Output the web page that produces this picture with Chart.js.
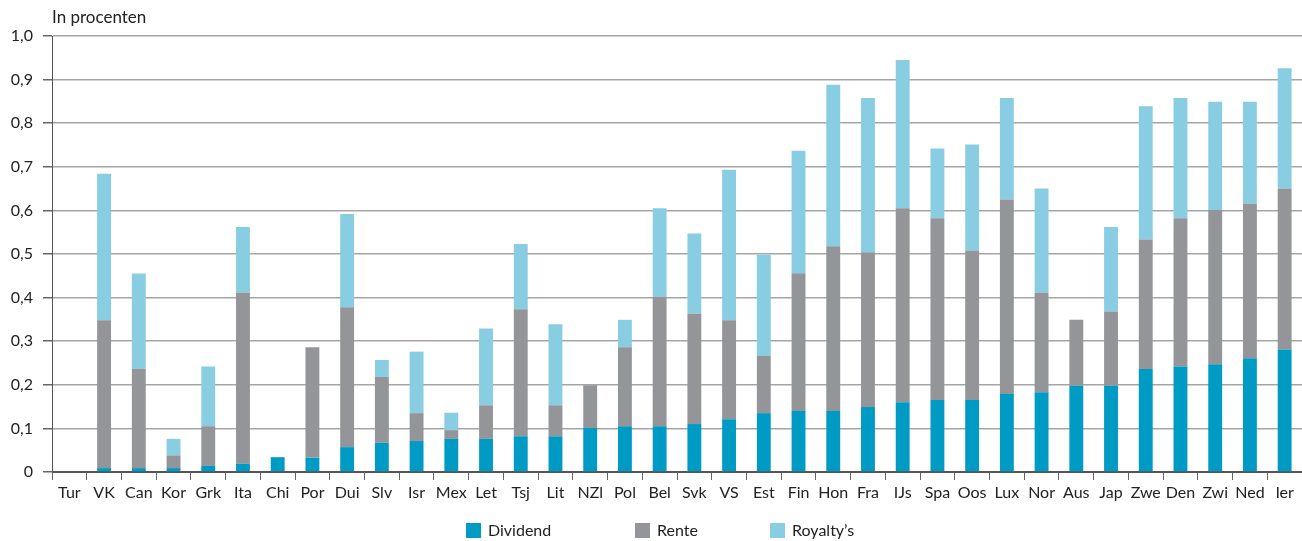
<!DOCTYPE html>
<html>
<head>
<meta charset="utf-8">
<script src="https://cdn.jsdelivr.net/npm/chart.js@4"></script>
<style>
  html, body { margin: 0; padding: 0; background: #fff; }
  #wrap { width: 1302px; height: 541px; }
</style>
</head>
<body>
<div id="wrap"><canvas id="chart" width="1302" height="541"></canvas></div>
<script>
// Data (in procenten)
const countries = ['Tur', 'VK', 'Can', 'Kor', 'Grk', 'Ita', 'Chi', 'Por', 'Dui', 'Slv', 'Isr', 'Mex',
  'Let', 'Tsj', 'Lit', 'NZl', 'Pol', 'Bel', 'Svk', 'VS', 'Est', 'Fin', 'Hon', 'Fra', 'IJs', 'Spa',
  'Oos', 'Lux', 'Nor', 'Aus', 'Jap', 'Zwe', 'Den', 'Zwi', 'Ned', 'Ier'];

const dividend = [0, 0.009, 0.009, 0.009, 0.014, 0.019, 0.034, 0.033, 0.057, 0.067, 0.071, 0.076,
  0.076, 0.082, 0.082, 0.101, 0.105, 0.105, 0.110, 0.121, 0.135, 0.140, 0.140, 0.149, 0.160, 0.165,
  0.165, 0.179, 0.183, 0.198, 0.198, 0.236, 0.242, 0.247, 0.261, 0.281];

const rente = [0, 0.339, 0.228, 0.029, 0.091, 0.392, 0, 0.253, 0.321, 0.151, 0.064, 0.020,
  0.077, 0.291, 0.071, 0.098, 0.181, 0.297, 0.253, 0.227, 0.131, 0.316, 0.378, 0.355, 0.445, 0.417,
  0.343, 0.446, 0.228, 0.151, 0.170, 0.297, 0.340, 0.354, 0.354, 0.369];

const royalty = [0, 0.336, 0.218, 0.038, 0.137, 0.151, 0, 0, 0.214, 0.039, 0.141, 0.040,
  0.176, 0.150, 0.186, 0, 0.063, 0.203, 0.184, 0.345, 0.232, 0.281, 0.370, 0.354, 0.340, 0.160,
  0.243, 0.233, 0.239, 0, 0.194, 0.306, 0.276, 0.248, 0.234, 0.276];

const yTicks = [0, 0.1, 0.2, 0.3, 0.4, 0.5, 0.6, 0.7, 0.8, 0.9, 1.0];

Chart.defaults.font.family = 'Lato';
Chart.defaults.font.size = 16;
Chart.defaults.color = '#222';

// unit label above the y axis + legend drawn underneath the chart
const extrasPlugin = {
  id: 'extras',
  afterDraw(chart) {
    const c = chart.ctx;
    c.save();
    c.font = '17px Lato';
    c.fillStyle = '#222';
    c.textBaseline = 'middle';
    c.fillText('In procenten', chart.chartArea.left, 18);

    // legend, laid out around the canvas centre
    const offsets = [-185, -16, 119];
    const mid = chart.width / 2;
    c.font = '16px Lato';
    chart.data.datasets.forEach((ds, i) => {
      const x = mid + offsets[i];
      c.fillStyle = ds.backgroundColor;
      c.fillRect(x, 523, 15, 15);
      c.fillStyle = '#222';
      c.fillText(ds.label, x + 22, 531);
    });
    c.restore();
  }
};

const barOpts = { barPercentage: 0.4, categoryPercentage: 1.0, borderWidth: 0 };

new Chart(document.getElementById('chart'), {
  type: 'bar',
  data: {
    labels: countries,
    datasets: [
      Object.assign({ label: 'Dividend', data: dividend, backgroundColor: '#009bc4' }, barOpts),
      Object.assign({ label: 'Rente', data: rente, backgroundColor: '#939598' }, barOpts),
      Object.assign({ label: 'Royalty\u2019s', data: royalty, backgroundColor: '#89cde3' }, barOpts)
    ]
  },
  options: {
    responsive: false,
    animation: false,
    layout: { padding: { top: 36, right: 0, left: 0, bottom: 32 } },
    plugins: {
      legend: { display: false },
      tooltip: { enabled: false }
    },
    scales: {
      x: {
        stacked: true,
        grid: {
          offset: true,
          drawOnChartArea: false,
          tickLength: 8,
          color: '#666'
        },
        border: { color: '#555', width: 1 },
        ticks: { padding: 3, maxRotation: 0, autoSkip: false, color: '#222' },
        afterFit(s) { s.height = 37; }
      },
      y: {
        stacked: true,
        min: 0,
        max: 1,
        afterBuildTicks(s) { s.ticks = yTicks.map(v => ({ value: v })); },
        grid: {
          color: (ctx) => ctx.tick && ctx.tick.value === 0 ? '#555' : '#a5a5a5',
          lineWidth: 1.5,
          tickLength: 9,
          tickColor: '#666'
        },
        border: { color: '#555', width: 1 },
        ticks: {
          padding: 10,
          color: '#222',
          callback: (v) => v === 0 ? '0' : v.toFixed(1).replace('.', ',')
        },
        afterFit(s) { s.width = 52; }
      }
    }
  },
  plugins: [extrasPlugin]
});
</script>
</body>
</html>
